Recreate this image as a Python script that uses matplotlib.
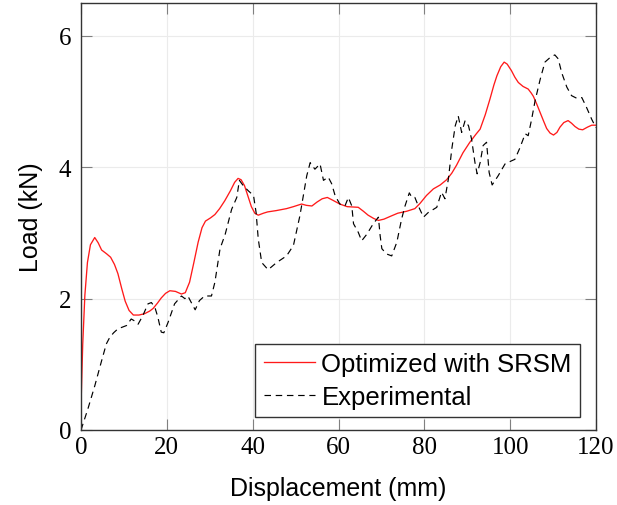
import matplotlib
matplotlib.use("Agg")
import matplotlib.pyplot as plt

# Optimized with SRSM (red solid)
opt_x = [0, 0.4, 0.9, 1.5, 2.2, 3.2, 4.0, 4.8, 6.0, 6.9, 7.8, 8.6, 9.5, 10.3, 11.2, 12.2,
         13.5, 14.8, 16.0, 16.8, 17.8, 18.7, 19.7, 20.7, 22.0, 23.4, 24.3, 25.3, 26.3, 27.3,
         28.2, 29.0, 30.2, 31.2, 32.3, 33.5, 34.8, 35.8, 36.6, 37.3, 38.1, 38.8, 39.7, 40.5,
         41.3, 42.5, 43.5, 45.5, 47.9, 49.5, 51.4, 52.5, 53.8, 55.0, 56.2, 57.4, 58.6, 60.3,
         62.0, 64.6, 65.8, 66.9, 68.2, 69.3, 70.6, 72.0, 73.8, 75.9, 77.8, 79.0, 80.5, 82.1,
         83.7, 85.2, 86.4, 87.5, 89.0, 90.6, 92.0, 93.0, 94.2, 95.3, 96.2, 96.9, 97.8, 98.6,
         99.3, 100.3, 101.1, 101.9, 103.0, 104.2, 104.9, 105.4, 106.2, 107.0, 107.8, 108.5,
         109.3, 110.1, 110.9, 111.6, 112.5, 113.5, 114.3, 115.1, 116.0, 116.9, 118.0, 119.0, 120]
opt_y = [0.37, 1.30, 2.05, 2.55, 2.82, 2.93, 2.85, 2.74, 2.68, 2.63, 2.52, 2.38, 2.15, 1.96,
         1.82, 1.75, 1.75, 1.77, 1.81, 1.85, 1.93, 2.01, 2.08, 2.12, 2.11, 2.07, 2.09, 2.25,
         2.55, 2.86, 3.08, 3.18, 3.23, 3.28, 3.37, 3.49, 3.64, 3.77, 3.83, 3.81, 3.72, 3.58,
         3.40, 3.30, 3.27, 3.30, 3.32, 3.34, 3.37, 3.40, 3.44, 3.42, 3.41, 3.47, 3.52, 3.54,
         3.50, 3.44, 3.40, 3.39, 3.33, 3.27, 3.22, 3.19, 3.21, 3.25, 3.30, 3.33, 3.37, 3.45,
         3.57, 3.67, 3.73, 3.81, 3.91, 4.03, 4.22, 4.38, 4.50, 4.58, 4.80, 5.04, 5.25, 5.39,
         5.53, 5.60, 5.57, 5.47, 5.37, 5.29, 5.23, 5.19, 5.13, 5.08, 4.96, 4.83, 4.70, 4.59,
         4.52, 4.49, 4.53, 4.61, 4.68, 4.71, 4.67, 4.62, 4.58, 4.57, 4.61, 4.64, 4.64]

# Experimental (black dashed)
exp_x = [0, 1.6, 3.2, 4.7, 5.9, 6.7, 7.6, 8.6, 10.6, 11.7, 12.5, 13.3, 14.4, 15.6, 16.4,
         17.2, 17.9, 18.7, 19.3, 20.3, 21.8, 23.4, 24.2, 24.9, 25.7, 26.6, 27.6, 28.8, 30.4,
         31.2, 32.4, 33.6, 35.1, 36.3, 36.9, 37.8, 39.0, 40.2, 40.8, 41.3, 42.1, 43.6, 45.6,
         47.9, 49.5, 51.0, 52.6, 53.4, 54.5, 55.7, 56.5, 57.6, 58.4, 59.2, 60.3, 61.5, 62.3,
         63.1, 63.5, 64.6, 65.4, 66.6, 68.1, 69.3, 69.7, 70.1, 71.2, 72.4, 73.6, 74.7, 75.5,
         76.5, 77.1, 77.8, 78.6, 79.8, 80.9, 82.9, 84.0, 84.8, 85.6, 86.4, 87.2, 87.9, 88.7,
         89.5, 90.3, 91.0, 91.8, 92.3, 93.0, 93.7, 94.5, 95.1, 95.8, 97.2, 98.8, 100.4, 101.1,
         102.3, 103.5, 104.2, 105.0, 105.8, 107.0, 108.1, 109.3, 110.4, 111.2, 112.0, 113.2,
         114.3, 115.5, 116.7, 117.8, 119.0, 120]
exp_y = [0.0, 0.32, 0.67, 1.03, 1.31, 1.41, 1.48, 1.54, 1.59, 1.69, 1.66, 1.61, 1.74, 1.92,
         1.94, 1.87, 1.72, 1.49, 1.48, 1.64, 1.92, 2.04, 2.00, 2.04, 1.94, 1.83, 1.97, 2.04,
         2.04, 2.25, 2.76, 2.98, 3.36, 3.54, 3.80, 3.72, 3.64, 3.57, 3.31, 2.91, 2.55, 2.44,
         2.55, 2.65, 2.81, 3.26, 3.87, 4.07, 3.97, 4.05, 3.80, 3.85, 3.75, 3.57, 3.44, 3.41,
         3.54, 3.41, 3.14, 3.01, 2.88, 2.98, 3.14, 3.24, 2.96, 2.76, 2.68, 2.65, 2.86, 3.21,
         3.41, 3.61, 3.54, 3.54, 3.41, 3.24, 3.31, 3.39, 3.62, 3.52, 3.82, 4.28, 4.63, 4.78,
         4.53, 4.71, 4.63, 4.43, 4.07, 3.90, 4.07, 4.33, 4.38, 3.92, 3.73, 3.87, 4.05, 4.10,
         4.12, 4.30, 4.51, 4.48, 4.73, 5.01, 5.34, 5.60, 5.67, 5.71, 5.65, 5.44, 5.22, 5.09,
         5.05, 5.06, 4.91, 4.73, 4.60]

x_ticks = [0, 20, 40, 60, 80, 100, 120]
y_ticks = [0, 2, 4, 6]
labels = ["Optimized with SRSM", "Experimental"]

W, H = 617, 506
fig = plt.figure(figsize=(W / 100, H / 100), dpi=100)
ax = fig.add_axes([81 / W, 1 - 431 / H, (596 - 81) / W, (431 - 4) / H])

ax.plot(opt_x, opt_y, color="#ff1a1a", lw=0.95, label=labels[0])
ax.plot(exp_x, exp_y, color="black", lw=0.85, linestyle=(0, (5.5, 4.0)), label=labels[1])

ax.set_xlim(0, 120)
ax.set_ylim(0, 6.5)
ax.set_xticks(x_ticks)
ax.set_yticks(y_ticks)
ax.set_xticklabels([str(v) for v in x_ticks], family="Liberation Serif", fontsize=18)
ax.set_yticklabels([str(v) for v in y_ticks], family="Liberation Serif", fontsize=18)
ax.tick_params(axis="both", which="major", direction="in", length=8, width=0.8,
               color="#808080", top=True, right=True)
ax.tick_params(axis="x", pad=4)
ax.tick_params(axis="y", pad=7)

ax.grid(True, color="#ebebeb", lw=0.8)
ax.set_axisbelow(True)
for s in ax.spines.values():
    s.set_color("#333333")
    s.set_linewidth(1.0)

ax.set_xlabel("Displacement (mm)", family="Liberation Sans", fontsize=18, labelpad=13)
ax.set_ylabel("Load (kN)", family="Liberation Sans", fontsize=18, labelpad=11)

leg = ax.legend(loc="lower right", bbox_to_anchor=((580 - 81) / 515, (431 - 418) / 427),
                prop={"family": "Liberation Sans", "size": 18.5}, frameon=True, fancybox=False,
                framealpha=1, edgecolor="#333333", handlelength=2.0, handletextpad=0.25,
                borderpad=0.32, labelspacing=0.35, borderaxespad=0)
leg.get_frame().set_linewidth(1.0)

fig.savefig("out.png", dpi=100)
